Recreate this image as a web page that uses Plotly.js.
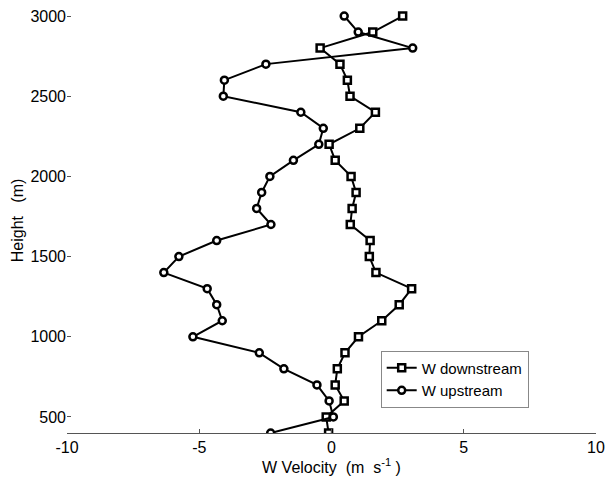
<!DOCTYPE html>
<html>
<head>
<meta charset="utf-8">
<script src="https://cdn.plot.ly/plotly-3.0.1.min.js"></script>
<style>html,body{margin:0;padding:0;background:#fff;}#chart{width:606px;height:477px;}</style>
</head>
<body>
<div id="chart"></div>
<script>
// Heights (m)
const heights = [400,500,600,700,800,900,1000,1100,1200,1300,1400,1500,1600,1700,1800,1900,2000,2100,2200,2300,2400,2500,2600,2700,2800,2900,3000];
// W downstream velocity (m/s)
const wDownstream = [-0.11,-0.20,0.48,0.14,0.22,0.51,1.02,1.90,2.56,3.03,1.68,1.43,1.46,0.71,0.78,0.93,0.74,0.14,-0.09,1.07,1.66,0.70,0.60,0.32,-0.43,1.56,2.69];
// W upstream velocity (m/s)
const wUpstream = [-2.30,0.07,-0.09,-0.55,-1.80,-2.73,-5.24,-4.13,-4.34,-4.70,-6.34,-5.77,-4.34,-2.29,-2.83,-2.64,-2.33,-1.44,-0.48,-0.31,-1.16,-4.09,-4.05,-2.48,3.07,1.01,0.48];
const xTicks = [-10,-5,0,5,10];
const yTicks = [500,1000,1500,2000,2500,3000];

const font = {family: 'Liberation Sans, Arial, sans-serif', size: 16, color: '#000'};
const legendFont = {family: 'Liberation Sans, Arial, sans-serif', size: 15, color: '#000'};

const traces = [
  {
    x: wDownstream, y: heights, name: 'W downstream', mode: 'lines+markers',
    line: {color: '#000', width: 2},
    marker: {symbol: 'square', size: 7, color: '#fff', line: {color: '#000', width: 2.5}}
  },
  {
    x: wUpstream, y: heights, name: 'W upstream', mode: 'lines+markers',
    line: {color: '#000', width: 2},
    marker: {symbol: 'circle', size: 7, color: '#fff', line: {color: '#000', width: 2.5}}
  }
];

const layout = {
  width: 606, height: 477,
  margin: {l: 67, r: 10, t: 8, b: 44},
  paper_bgcolor: '#fff', plot_bgcolor: '#fff',
  font: font,
  showlegend: true,
  legend: {
    x: 0.593, y: 0.127, xanchor: 'left', yanchor: 'middle',
    bordercolor: '#888', borderwidth: 1, bgcolor: '#fff',
    font: legendFont, tracegroupgap: 0
  },
  xaxis: {
    range: [-10, 10], tickvals: xTicks, ticktext: xTicks.map(String),
    showgrid: false, zeroline: false,
    showline: true, linecolor: '#555', linewidth: 1,
    ticks: 'inside', ticklen: 4, tickcolor: '#555',
    tickfont: font,
    title: {text: 'W Velocity  (m  s<sup>-1</sup> )', font: font, standoff: 2}
  },
  yaxis: {
    range: [400, 3050], tickvals: yTicks, ticktext: yTicks.map(String),
    showgrid: false, zeroline: false, showline: false,
    ticks: 'inside', ticklen: 4, tickcolor: '#555',
    tickfont: font,
    title: {text: 'Height   (m)', font: font, standoff: 2}
  }
};

Plotly.newPlot('chart', traces, layout, {displayModeBar: false, staticPlot: true});
</script>
</body>
</html>
